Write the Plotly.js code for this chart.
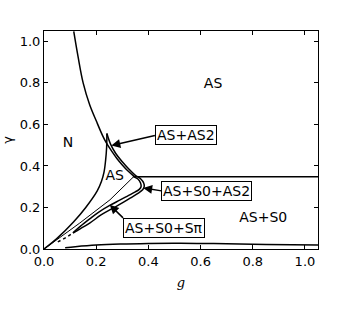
<!DOCTYPE html>
<html>
<head>
<meta charset="utf-8">
<script src="https://cdn.plot.ly/plotly-3.0.1.min.js"></script>
<style>html,body{margin:0;padding:0;background:#fff;}#chart{width:353px;height:313px;}</style>
</head>
<body>
<div id="chart"></div>
<script>
// Boundary curves (g, gamma)
const hypG   = [0.114, 0.13, 0.15, 0.175, 0.201, 0.225, 0.239, 0.26, 0.28, 0.30, 0.32, 0.345];
const hypY   = [1.048, 0.93, 0.80, 0.695, 0.615, 0.545, 0.511, 0.47, 0.435, 0.405, 0.378, 0.35];
const horizG = [0.345, 1.05];
const horizY = [0.348, 0.348];
const leftG  = [0, 0.049, 0.113, 0.16, 0.204, 0.22, 0.23, 0.236, 0.24, 0.241];
const leftY  = [0, 0.05, 0.13, 0.2, 0.28, 0.325, 0.37, 0.426, 0.49, 0.556];
const outerG = [0.241, 0.255, 0.275, 0.30, 0.325, 0.35, 0.37, 0.382, 0.384, 0.378, 0.36, 0.33, 0.30, 0.265, 0.22, 0.175, 0.137, 0.111];
const outerY = [0.556, 0.505, 0.46, 0.42, 0.385, 0.355, 0.338, 0.318, 0.30, 0.285, 0.268, 0.245, 0.222, 0.197, 0.165, 0.125, 0.096, 0.077];
const innerG = [0.341, 0.36, 0.37, 0.372, 0.365, 0.35, 0.32, 0.29, 0.252, 0.21, 0.175, 0.14, 0.111];
const innerY = [0.35, 0.337, 0.318, 0.30, 0.287, 0.275, 0.255, 0.235, 0.21, 0.178, 0.145, 0.11, 0.078];
const diagG  = [0, 0.137, 0.253, 0.345];
const diagY  = [0, 0.125, 0.237, 0.35];
const dotG   = [0.053, 0.08, 0.111];
const dotY   = [0.034, 0.052, 0.077];
const botG   = [0.081, 0.12, 0.2, 0.292, 0.4, 0.523, 0.65, 0.8, 0.95, 1.05];
const botY   = [0.006, 0.011, 0.019, 0.024, 0.027, 0.028, 0.026, 0.023, 0.02, 0.019];

// Region labels
const labelText = ['N', 'AS', 'AS', 'AS+S0'];
const labelG    = [0.092, 0.648, 0.271, 0.84];
const labelY    = [0.507, 0.791, 0.35, 0.145];

// Boxed labels with arrows: text, arrow head (g, gamma), box anchor (g, gamma)
const boxText  = ['AS+AS2', 'AS+S0+AS2', 'AS+S0+Sπ'];
const headG    = [0.258, 0.38, 0.252];
const headY    = [0.498, 0.294, 0.213];
const tailG    = [0.425, 0.45, 0.303];
const tailY    = [0.547, 0.28, 0.15];

const font = {family: 'DejaVu Sans, sans-serif', size: 13, color: '#000'};
const font14 = {family: 'DejaVu Sans, sans-serif', size: 14, color: '#000'};

const traces = [
  {x: hypG, y: hypY, mode: 'lines', line: {color: '#000', width: 1.5, shape: 'spline'}},
  {x: horizG, y: horizY, mode: 'lines', line: {color: '#000', width: 1.5}},
  {x: leftG, y: leftY, mode: 'lines', line: {color: '#000', width: 1.5, shape: 'spline'}},
  {x: outerG, y: outerY, mode: 'lines', line: {color: '#000', width: 1.5, shape: 'spline'}},
  {x: innerG, y: innerY, mode: 'lines', line: {color: '#000', width: 1.5, shape: 'spline'}},
  {x: diagG, y: diagY, mode: 'lines', line: {color: '#000', width: 1}},
  {x: dotG, y: dotY, mode: 'lines', line: {color: '#000', width: 1.5, dash: 'dot'}},
  {x: botG, y: botY, mode: 'lines', line: {color: '#000', width: 1.5, shape: 'spline'}},
  {x: labelG, y: labelY, text: labelText, mode: 'text', textfont: font14, textposition: 'middle center'}
];

const anns = boxText.map((t, i) => ({
  text: t, x: headG[i], y: headY[i], ax: tailG[i], ay: tailY[i],
  xref: 'x', yref: 'y', axref: 'x', ayref: 'y',
  xanchor: 'left', yanchor: i === 2 ? 'top' : 'middle',
  showarrow: true, arrowhead: 2, arrowsize: 1.2, arrowwidth: 1.5, arrowcolor: '#000',
  bordercolor: '#000', borderwidth: 1, borderpad: 1, bgcolor: '#fff', font: font14
}));

const axisCommon = {
  showline: true, linecolor: '#000', linewidth: 1, mirror: 'ticks',
  ticks: 'inside', ticklen: 4, tickwidth: 1, tickcolor: '#000',
  showgrid: false, zeroline: false, tickfont: font, dtick: 0.2, tickformat: '.1f'
};

const layout = {
  width: 353, height: 313,
  margin: {l: 44, r: 35, t: 31, b: 64},
  paper_bgcolor: '#fff', plot_bgcolor: '#fff',
  showlegend: false,
  xaxis: Object.assign({}, axisCommon, {range: [0, 1.05],
    title: {text: '<i>g</i>', font: {family: 'DejaVu Serif, serif', size: 13, color: '#000'}, standoff: 10}}),
  yaxis: Object.assign({}, axisCommon, {range: [0, 1.05],
    title: {text: 'γ', font: font, standoff: 10}}),
  annotations: anns
};

Plotly.newPlot('chart', traces, layout, {staticPlot: true});
</script>
</body>
</html>
